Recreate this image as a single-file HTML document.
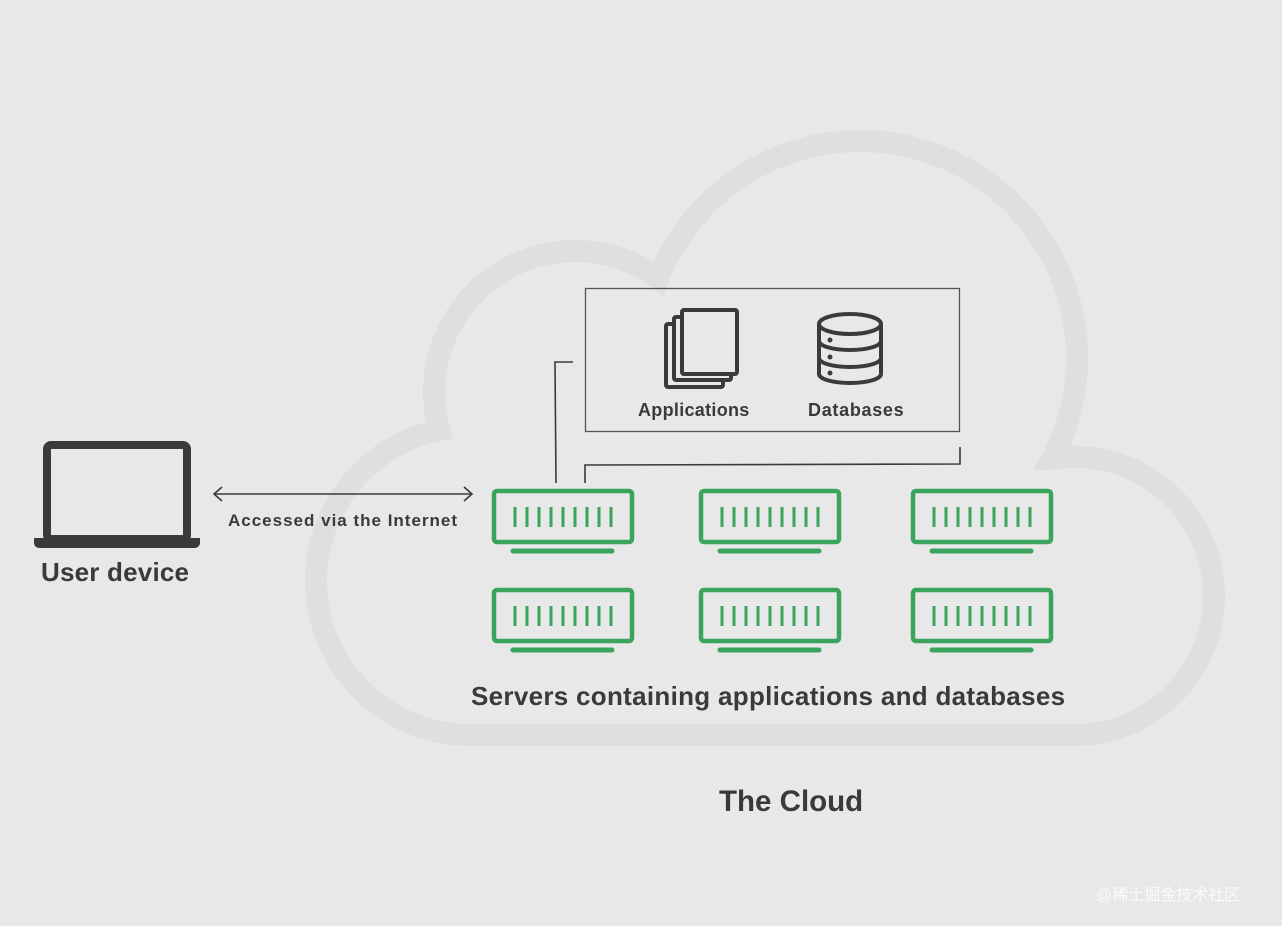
<!DOCTYPE html>
<html><head><meta charset="utf-8"><style>
body{margin:0;width:1282px;height:926px;background:#e8e8e8;overflow:hidden;position:relative;font-family:"Liberation Sans","Noto Sans CJK SC",sans-serif;color:#3a3a3a}
.t{position:absolute;font-weight:bold;white-space:nowrap}
</style></head><body>
<svg width="1282" height="926" style="position:absolute;left:0;top:0">
<g fill="#dfdfdf">
<circle cx="470" cy="581" r="165"/><circle cx="575" cy="392" r="152"/><circle cx="860" cy="358" r="228"/><circle cx="1075" cy="596" r="150"/>
<rect x="470" y="620" width="605" height="126"/>
</g>
<g fill="#e8e8e8">
<circle cx="470" cy="581" r="143"/><circle cx="575" cy="392" r="130"/><circle cx="860" cy="358" r="206"/><circle cx="1075" cy="596" r="128"/>
<rect x="470" y="470" width="605" height="254"/>
<polygon points="470,440 600,300 870,300 1030,473 1080,724 470,724"/>
</g>
<rect x="47" y="445" width="140" height="94" rx="4" fill="none" stroke="#3a3a3a" stroke-width="8"/>
<path d="M34 538 H200 V542 Q200 548 194 548 H40 Q34 548 34 542Z" fill="#3a3a3a"/>
<g stroke="#3a3a3a" stroke-width="1.6" fill="none">
<line x1="214" y1="494" x2="472" y2="494"/>
<polyline points="222,487 214,494 222,501"/><polyline points="464,487 472,494 464,501"/>
<rect x="585.5" y="288.5" width="374" height="143" stroke="#555" stroke-width="1.3"/>
<polyline points="573,362 555,362 556,483"/>
<polyline points="585,483 585,465 960,464 960,447"/>
</g>
<g fill="none" stroke="#3a3a3a" stroke-width="4">
<rect x="666" y="324" width="57" height="63" rx="2"/>
<rect x="674" y="317" width="57" height="63" rx="2" fill="#e8e8e8"/>
<rect x="682" y="310" width="55" height="64" rx="2" fill="#e8e8e8"/>
</g>
<g fill="none" stroke="#3a3a3a" stroke-width="4">
<path d="M819 324 V374 A31 9 0 0 0 881 374 V324"/>
<ellipse cx="850" cy="324" rx="31" ry="10"/>
<path d="M819 341 A31 9 0 0 0 881 341"/><path d="M819 358 A31 9 0 0 0 881 358"/>
</g>
<g fill="#3a3a3a"><circle cx="830" cy="340" r="2.5"/><circle cx="830" cy="357" r="2.5"/><circle cx="830" cy="373" r="2.5"/></g>
<g id="srv" stroke="#3aa35c" fill="none">
<rect x="494" y="491" width="138" height="51" rx="3" stroke-width="4.5"/>
<line x1="513" y1="551" x2="612" y2="551" stroke-width="5" stroke-linecap="round"/>
<g stroke-width="3">
<line x1="515" y1="507" x2="515" y2="527"/><line x1="527" y1="507" x2="527" y2="527"/><line x1="539" y1="507" x2="539" y2="527"/><line x1="551" y1="507" x2="551" y2="527"/><line x1="563" y1="507" x2="563" y2="527"/><line x1="575" y1="507" x2="575" y2="527"/><line x1="587" y1="507" x2="587" y2="527"/><line x1="599" y1="507" x2="599" y2="527"/><line x1="611" y1="507" x2="611" y2="527"/>
</g></g>
<use href="#srv" x="207" y="0"/><use href="#srv" x="419" y="0"/>
<use href="#srv" x="0" y="99"/><use href="#srv" x="207" y="99"/><use href="#srv" x="419" y="99"/>
</svg>
<div class="t" style="left:41px;top:557px;font-size:26px;letter-spacing:0.2px">User device</div>
<div class="t" style="left:228px;top:511px;font-size:17px;letter-spacing:1px">Accessed via the Internet</div>
<div class="t" style="left:638px;top:400px;font-size:18px;letter-spacing:0.3px">Applications</div>
<div class="t" style="left:808px;top:400px;font-size:18px;letter-spacing:0.7px">Databases</div>
<div class="t" style="left:471px;top:681px;font-size:26px;letter-spacing:0.3px">Servers containing applications and databases</div>
<div class="t" style="left:719px;top:785px;font-size:29.5px">The Cloud</div>
<div class="t" style="left:1096px;top:881px;font-size:16px;font-weight:normal;color:#fafafa">@稀土掘金技术社区</div>
</body></html>
